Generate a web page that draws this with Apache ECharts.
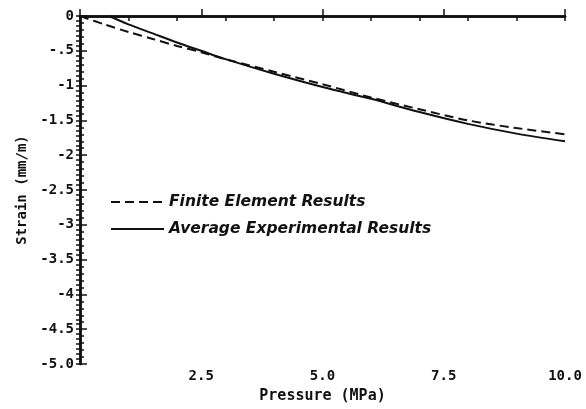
<!DOCTYPE html>
<html>
<head>
<meta charset="utf-8">
<script src="https://cdn.jsdelivr.net/npm/echarts@6/dist/echarts.min.js"></script>
<style>
  html, body { margin: 0; padding: 0; background: #fff; }
  #chart { width: 586px; height: 409px; }
</style>
</head>
<body>
<div id="chart"></div>
<script>
// pressure (MPa) vs strain (mm/m)
const fePressure = [0, 0.5, 1, 1.5, 2, 2.5, 3, 4, 5, 6, 7, 8, 9, 10];
const feStrain = [0, -0.12, -0.23, -0.33, -0.43, -0.52, -0.62, -0.8, -0.98, -1.17, -1.34, -1.5, -1.61, -1.7];

const expPressure = [0.6, 1, 1.5, 2, 2.5, 3, 4, 5, 6, 7, 8, 9, 10];
const expStrain = [0, -0.12, -0.25, -0.38, -0.5, -0.62, -0.83, -1.02, -1.19, -1.38, -1.55, -1.69, -1.8];

const seriesNames = ['Finite Element Results', 'Average Experimental Results'];

const mono = 'DejaVu Sans Mono';
const axisLine = { lineStyle: { color: '#111', width: 2.5 } };
const tickStyle = { color: '#111', width: 1.5 };

const chart = echarts.init(document.getElementById('chart'));

const yLabel = v => {
  if (v === 0) return '0';
  if (v === -5) return '-5.0';
  if (v === -0.5) return '-.5';
  return String(v);
};

chart.setOption({
  backgroundColor: '#fff',
  animation: false,
  grid: { left: 80, right: 21, top: 16, bottom: 41 },
  legend: {
    orient: 'vertical',
    left: 105,
    top: 189,
    itemWidth: 53,
    itemHeight: 14,
    itemGap: 11,
    data: seriesNames,
    itemStyle: { opacity: 0 },
    textStyle: {
      fontFamily: 'DejaVu Sans',
      fontStyle: 'italic',
      fontWeight: 'bold',
      fontSize: 15.5,
      color: '#111'
    }
  },
  xAxis: [{
    type: 'value',
    min: 0,
    max: 10,
    interval: 2.5,
    name: 'Pressure (MPa)',
    nameLocation: 'middle',
    nameGap: 25,
    nameTextStyle: { fontFamily: mono, fontWeight: 'bold', fontSize: 15, color: '#111' },
    axisLine: axisLine,
    axisTick: { inside: true, length: 7, lineStyle: tickStyle },
    axisLabel: {
      fontFamily: mono, fontWeight: 'bold', fontSize: 14, color: '#111', margin: 5,
      formatter: v => v === 0 ? '' : v.toFixed(1)
    },
    splitLine: { show: false }
  }, {
    type: 'value',
    position: 'top',
    min: 0,
    max: 10,
    interval: 1,
    axisLine: axisLine,
    axisTick: { inside: true, length: 5, lineStyle: tickStyle },
    axisLabel: { show: false },
    splitLine: { show: false }
  }],
  yAxis: [{
    type: 'value',
    min: -5,
    max: 0,
    interval: 0.5,
    name: 'Strain (mm/m)',
    nameLocation: 'middle',
    nameGap: 47,
    nameTextStyle: { fontFamily: mono, fontWeight: 'bold', fontSize: 14, color: '#111' },
    axisLine: axisLine,
    axisTick: { inside: true, length: 7, lineStyle: tickStyle },
    minorTick: { show: true, splitNumber: 5, length: 4, lineStyle: tickStyle },
    axisLabel: {
      fontFamily: mono, fontWeight: 'bold', fontSize: 14, color: '#111', margin: 6,
      formatter: yLabel
    },
    splitLine: { show: false }
  }, {
    type: 'value',
    position: 'right',
    min: -5,
    max: 0,
    interval: 0.5,
    axisLine: axisLine,
    axisTick: { inside: true, length: 4, lineStyle: tickStyle },
    minorTick: { show: true, splitNumber: 7, length: 4, lineStyle: tickStyle },
    axisLabel: { show: false },
    splitLine: { show: false }
  }],
  series: [{
    name: seriesNames[0],
    type: 'line',
    smooth: 0.3,
    symbol: 'none',
    data: fePressure.map((p, i) => [p, feStrain[i]]),
    lineStyle: { color: '#111', width: 2, type: [9, 5] },
    itemStyle: { color: '#111' }
  }, {
    name: seriesNames[1],
    type: 'line',
    smooth: 0.3,
    symbol: 'none',
    data: expPressure.map((p, i) => [p, expStrain[i]]),
    lineStyle: { color: '#111', width: 2, type: 'solid' },
    itemStyle: { color: '#111' }
  }]
});
</script>
</body>
</html>
